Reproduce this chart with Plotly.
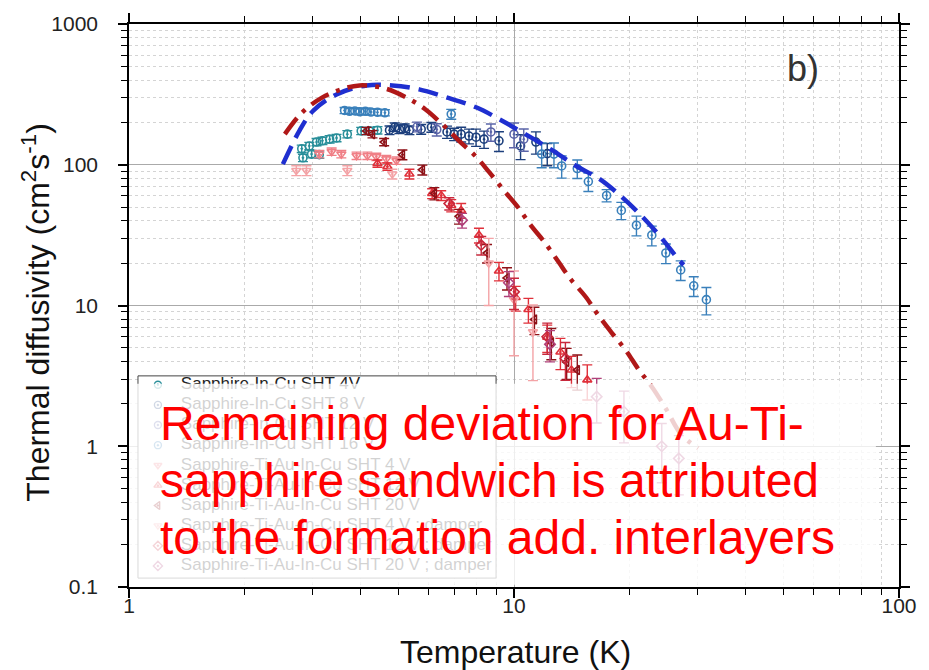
import plotly.graph_objects as go

FONT = "Arial, 'Liberation Sans', sans-serif"

# ---- measured thermal diffusivity: temperature (K), diffusivity (cm^2/s), error (%) ----
in_cu_4v_T = [2.81, 2.94, 3.07, 3.18, 3.32, 3.46, 3.69, 4.01, 4.21, 4.42, 2.83, 2.98, 3.12]
in_cu_4v_D = [130, 136, 145, 148, 152, 155, 165, 174, 174, 176, 112, 119, 118]
in_cu_4v_E = [6, 6, 6, 6, 6, 6, 6, 6, 6, 6, 6, 6, 6]

in_cu_8v_T = [4.75, 4.90, 5.04, 5.20, 5.35, 5.74, 6.10, 6.70, 6.99, 7.29, 7.64, 7.97, 8.36, 9.14, 10.4, 11.4, 12.2]
in_cu_8v_D = [176, 185, 179, 182, 176, 179, 185, 171, 165, 165, 160, 157, 152, 148, 136, 145, 120]
in_cu_8v_E = [7, 7, 7, 7, 7, 8, 8, 10, 10, 12, 12, 14, 14, 16, 20, 18, 18]

in_cu_12v_T = [5.6, 6.3, 8.71, 10.0, 10.6]
in_cu_12v_D = [186, 178, 171, 165, 152]
in_cu_12v_E = [8, 10, 14, 20, 18]

in_cu_16v_T = [3.63, 3.74, 3.86, 3.98, 4.11, 4.25, 4.42, 4.62, 6.87, 11.8, 12.7, 13.3, 14.6,
               15.6, 17.4, 19.0, 20.8, 22.8, 24.8, 27.1, 29.3, 31.6]
in_cu_16v_D = [243, 240, 241, 238, 240, 237, 236, 234, 229, 119, 119, 98, 94,
               76, 60.5, 47.4, 37.2, 31.6, 23.6, 17.9, 13.8, 11.0]
in_cu_16v_E = [5, 5, 5, 5, 5, 5, 5, 5, 8, 20, 20, 18, 15,
               15, 10, 14, 16, 16, 16, 16, 16, 22]

tiau_4v_T = [3.12, 3.36, 3.56, 3.90, 4.16, 4.39, 4.66, 4.95]
tiau_4v_D = [119, 124, 119, 116, 116, 114, 110, 107]
tiau_4v_E = [6, 6, 6, 6, 6, 6, 6, 6]

tiau_12v_T = [4.42, 4.69, 5.35, 6.13, 6.47, 6.87, 7.29, 8.11, 9.14, 10.1, 10.9, 12.2, 13.2, 14.1, 15.5]
tiau_12v_D = [102, 97, 86, 62.5, 60.5, 51.4, 47.4, 31.6, 17.6, 11.4, 9.37, 5.95, 4.67, 3.48, 2.96]
tiau_12v_E = [6, 6, 8, 8, 8, 10, 12, 12, 15, 20, 20, 22, 25, 25, 28]

tiau_20v_T = [4.14, 4.29, 4.60, 5.13, 5.78, 6.21, 7.20, 8.51, 9.59, 11.3, 12.5, 13.7, 14.6]
tiau_20v_D = [174, 165, 145, 118, 92, 62.5, 43, 23.6, 15.7, 7.96, 5.49, 3.97, 3.48]
tiau_20v_E = [6, 6, 6, 8, 8, 10, 12, 15, 18, 22, 25, 25, 28]

tiau_4v_damp_T = [2.72, 2.89, 3.69, 4.83, 8.6, 10.0, 11.2]
tiau_4v_damp_D = [91, 91, 91, 86, 20, 11, 6.5]
tiau_4v_damp_E = [8, 8, 8, 8, 50, 60, 55]

tiau_12v_damp_T = [6.79, 8.22, 10.0, 12.2, 13.6]
tiau_12v_damp_D = [53, 26.9, 12.5, 6.0, 4.2]
tiau_12v_damp_E = [10, 15, 25, 25, 30]

tiau_20v_damp_T = [7.33, 9.7, 12.4, 16.4, 19.3, 24.2, 26.8]
tiau_20v_damp_D = [40.3, 14.5, 5.3, 2.25, 1.76, 1.0, 0.82]
tiau_20v_damp_E = [12, 20, 25, 35, 40, 45, 45]

# ---- model curves ----
model_in_cu_T = [2.51, 2.77, 3.0, 3.46, 4.14, 4.83, 5.67, 6.67, 7.97, 9.15, 10.7, 12.5,
                 14.5, 16.6, 19.0, 21.5, 24.2, 26.8, 27.6]
model_in_cu_D = [101, 174, 240, 316, 366, 366, 343, 301, 256, 211, 165, 128,
                 98, 80, 59.5, 43, 30, 21.1, 19.4]

model_tiau_T = [2.54, 2.82, 3.18, 3.56, 3.97, 4.61, 5.25, 5.88, 6.51, 7.20, 7.97, 8.61, 9.42,
                10.2, 11.1, 12.0, 13.1, 14.0, 15.4, 16.5, 17.9, 19.5, 21.1, 22.8, 24.8, 27.2, 30.1]
model_tiau_D = [165, 236, 301, 343, 366, 349, 301, 248, 194, 148, 114, 89, 65.6,
                50.6, 36.6, 28.2, 20.1, 15.5, 11.4, 8.64, 6.45, 4.82, 3.49, 2.65, 1.85, 1.21, 0.97]

series = [
    ("Sapphire-In-Cu SHT 4V", in_cu_4v_T, in_cu_4v_D, in_cu_4v_E, "#2a8f9a", "circle-open-dot"),
    ("Sapphire-In-Cu SHT 8 V", in_cu_8v_T, in_cu_8v_D, in_cu_8v_E, "#1c3f7c", "circle-open-dot"),
    ("Sapphire-In-Cu SHT 12 V", in_cu_12v_T, in_cu_12v_D, in_cu_12v_E, "#5a64a8", "circle-open-dot"),
    ("Sapphire-In-Cu SHT 16 V", in_cu_16v_T, in_cu_16v_D, in_cu_16v_E, "#3a80bb", "circle-open-dot"),
    ("Sapphire-Ti-Au-In-Cu SHT 4 V", tiau_4v_T, tiau_4v_D, tiau_4v_E, "#f07f86", "triangle-down-open-dot"),
    ("Sapphire-Ti-Au-In-Cu SHT 12 V", tiau_12v_T, tiau_12v_D, tiau_12v_E, "#e0303a", "triangle-up-open-dot"),
    ("Sapphire-Ti-Au-In-Cu SHT 20 V", tiau_20v_T, tiau_20v_D, tiau_20v_E, "#8e1218", "triangle-left-open-dot"),
    ("Sapphire-Ti-Au-In-Cu SHT 4 V ; damper", tiau_4v_damp_T, tiau_4v_damp_D, tiau_4v_damp_E, "#f4a3a6", "triangle-down-open-dot"),
    ("Sapphire-Ti-Au-In-Cu SHT 12 V ; damper", tiau_12v_damp_T, tiau_12v_damp_D, tiau_12v_damp_E, "#c8283c", "diamond-open-dot"),
    ("Sapphire-Ti-Au-In-Cu SHT 20 V ; damper", tiau_20v_damp_T, tiau_20v_damp_D, tiau_20v_damp_E, "#b0407a", "diamond-open-dot"),
]

# plot-area geometry in pixels (used to place the in-plot legend box)
PX_L, PX_R, PX_T, PX_B = 129, 901, 19, 587


def fx(px):
    return (px - PX_L) / (PX_R - PX_L)


def fy(py):
    return (PX_B - py) / (PX_B - PX_T)


fig = go.Figure()

for name, T, D, E, color, symbol in series:
    fig.add_trace(go.Scatter(
        x=T, y=D, mode="markers", name=name, showlegend=False,
        marker=dict(symbol=symbol, size=8, color=color, line=dict(color=color, width=1.6)),
        error_y=dict(type="data", array=[d * e / 100 for d, e in zip(D, E)],
                     color=color, thickness=1.4, width=5),
    ))

fig.add_trace(go.Scatter(x=model_in_cu_T, y=model_in_cu_D, mode="lines", showlegend=False,
                         line=dict(color="#1f2fd0", width=4.5, dash="20px,9px", shape="spline")))
fig.add_trace(go.Scatter(x=model_tiau_T, y=model_tiau_D, mode="lines", showlegend=False,
                         line=dict(color="#b01818", width=4.5, dash="20px,8px,4px,8px", shape="spline")))

# legend box drawn inside the plot on an overlay of unit axes
box_x = [fx(138), fx(497), fx(497), fx(138), fx(138)]
box_y = [fy(374), fy(374), fy(578), fy(578), fy(374)]
fig.add_trace(go.Scatter(x=box_x, y=box_y, xaxis="x2", yaxis="y2", mode="lines", fill="toself",
                         fillcolor="white", line=dict(color="#444", width=1), showlegend=False,
                         hoverinfo="skip"))
row_y = [fy(383 + i * 20.3) for i in range(len(series))]
fig.add_trace(go.Scatter(
    x=[fx(158)] * len(series), y=row_y, xaxis="x2", yaxis="y2", mode="markers", showlegend=False,
    marker=dict(symbol=[s[5] for s in series], size=7, color=[s[4] for s in series],
                line=dict(color=[s[4] for s in series], width=1.4)),
    hoverinfo="skip"))
fig.add_trace(go.Scatter(
    x=[fx(181)] * len(series), y=row_y, xaxis="x2", yaxis="y2", mode="text", showlegend=False,
    text=[s[0] for s in series], textposition="middle right",
    textfont=dict(family=FONT, size=17, color="#222"), hoverinfo="skip"))

minor_x = [2, 3, 4, 5, 6, 7, 8, 9, 20, 30, 40, 50, 60, 70, 80, 90]
minor_y = [v * 10 ** k for k in (-1, 0, 1, 2) for v in (2, 3, 4, 5, 6, 7, 8, 9)]

axis_common = dict(
    type="log", showline=True, linecolor="black", linewidth=1.6, mirror="allticks",
    ticks="outside", ticklen=9, tickwidth=1.6, tickcolor="black",
    tickfont=dict(family=FONT, size=21, color="#222"),
    showgrid=True, gridcolor="#aaaaaa", gridwidth=1, zeroline=False,
)

fig.update_xaxes(
    **axis_common, range=[0, 2], tickvals=[1, 10, 100], ticktext=["1", "10", "100"],
    ticklabelstandoff=-10,
    minor=dict(tickvals=minor_x, ticks="outside", ticklen=6, tickwidth=1.4, tickcolor="black",
               showgrid=True, gridcolor="#d4d4d4", griddash="dot", gridwidth=1),
)
fig.update_yaxes(
    **axis_common, range=[-1, 3], tickvals=[0.1, 1, 10, 100, 1000],
    ticktext=["0.1", "1", "10", "100", "1000"], ticklabelstandoff=16,
    minor=dict(tickvals=minor_y, ticks="outside", ticklen=6, tickwidth=1.4, tickcolor="black",
               showgrid=True, gridcolor="#d4d4d4", griddash="dot", gridwidth=1),
)

# translucent white panel behind the note
fig.add_shape(type="rect", xref="paper", yref="paper", x0=0.0, x1=0.97, y0=0.004, y1=fy(382),
              fillcolor="rgba(255,255,255,0.8)", line=dict(width=0), layer="above")

note_lines = ["Remaining deviation for Au-Ti-",
              "sapphire sandwich is attributed",
              "to the formation add. interlayers"]
note_y = [422, 480, 537]
for txt, py in zip(note_lines, note_y):
    fig.add_annotation(text=txt, xref="paper", yref="paper", x=fx(158), y=fy(py),
                       xanchor="left", yanchor="middle", showarrow=False,
                       font=dict(family=FONT, size=48, color="#ff0000"))

fig.add_annotation(text="b)", xref="paper", yref="paper", x=fx(805), y=fy(64),
                   xanchor="center", yanchor="middle", showarrow=False,
                   font=dict(family=FONT, size=36, color="#333"))

fig.add_annotation(text="Temperature (K)", xref="paper", yref="paper", x=fx(517), y=fy(653),
                   xanchor="center", yanchor="middle", showarrow=False,
                   font=dict(family=FONT, size=32, color="#111"))
fig.add_annotation(text="Thermal diffusivity (cm<sup>2</sup>s<sup>-1</sup>)", xref="paper", yref="paper",
                   x=fx(36), y=fy(310), textangle=-90,
                   xanchor="center", yanchor="middle", showarrow=False,
                   font=dict(family=FONT, size=32, color="#111"))

fig.update_layout(
    width=929, height=670, margin=dict(l=PX_L, r=929 - PX_R, t=PX_T, b=670 - PX_B),
    paper_bgcolor="white", plot_bgcolor="white",
    showlegend=False,
    xaxis2=dict(overlaying="x", range=[0, 1], visible=False, fixedrange=True),
    yaxis2=dict(overlaying="y", range=[0, 1], visible=False, fixedrange=True),
)

fig.write_html("out.html")
